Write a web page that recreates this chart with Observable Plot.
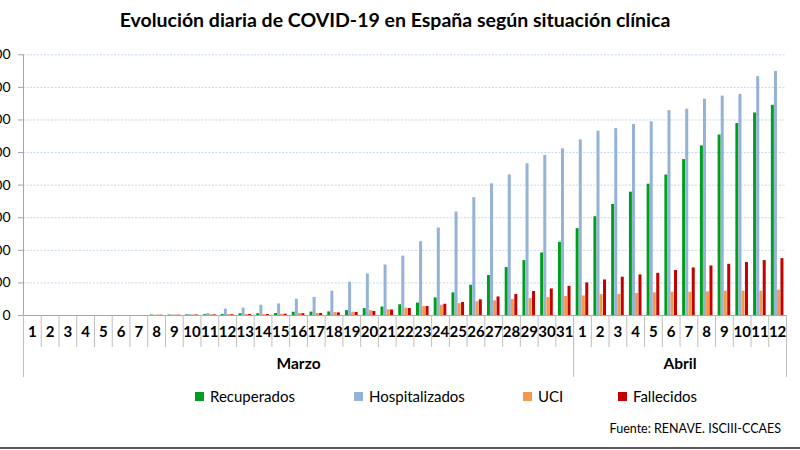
<!DOCTYPE html>
<html><head><meta charset="utf-8">
<script src="https://cdn.jsdelivr.net/npm/d3@7"></script>
<script src="https://cdn.jsdelivr.net/npm/@observablehq/plot@0.6"></script>
<style>
html,body{margin:0;padding:0;background:#fff;overflow:hidden;width:800px;height:450px;}
#wrap{position:relative;width:800px;height:450px;font-family:Lato,"Open Sans",sans-serif;color:#000;}
#title{position:absolute;left:0;top:7px;width:790px;text-align:center;font-weight:700;font-size:19.5px;line-height:26px;}
#chart{position:absolute;left:0;top:40px;}
.leg{position:absolute;top:387px;font-size:15px;line-height:18px;display:flex;align-items:center;white-space:nowrap;}
.sw{width:9px;height:9px;margin-right:6px;}
#src{position:absolute;right:19px;top:420px;font-size:12.5px;line-height:18px;}
#border{position:absolute;left:0;top:447px;width:800px;height:2px;background:#595959;}
</style></head><body>
<div id="wrap">
  <div id="title">Evolución diaria de COVID-19 en España según situación clínica</div>
  <div id="chart"></div>
  <div id="legend"></div>
  <div id="src">Fuente: RENAVE. ISCIII-CCAES</div>
  <div id="border"></div>
</div>
<script>
// ---- data ----
const etiquetas = ["1","2","3","4","5","6","7","8","9","10","11","12","13","14","15","16","17","18","19","20","21","22","23","24","25","26","27","28","29","30","31",
                   "1","2","3","4","5","6","7","8","9","10","11","12"];
const meses = ["Marzo","Abril"];
const diasPorMes = [31, 12];
const series = ["Recuperados","Hospitalizados","UCI","Fallecidos"];
const colores = ["#009e1e","#95b3d7","#f39a4c","#c40000"];
const recuperados = [0,0,0,0,0,0,0,150,150,200,250,300,550,550,600,1000,1050,1100,1500,2100,2600,3300,3800,5400,6950,9300,12250,14700,16850,19200,22450,
                     26650,30300,34100,37850,40300,43100,47850,52050,55400,58900,62150,64500];
const hospitalizados = [0,0,0,0,0,0,0,100,150,250,600,1950,2250,3150,3550,5000,5550,7450,10200,12750,15500,18250,22650,26850,31750,36150,40400,43150,46550,49100,51150,
                        53900,56550,57350,58600,59400,62850,63300,66350,67350,67850,73300,74900];
const uci = [0,0,0,0,0,0,0,150,150,200,250,300,300,300,400,600,650,900,1000,1500,1750,2250,2750,3150,3650,4200,4500,4900,5200,5500,5850,
             6000,6400,6450,6750,6950,7150,7150,7250,7450,7450,7450,7750];
const fallecidos = [0,0,0,0,0,0,0,100,100,150,200,250,300,300,400,550,600,800,950,1250,1700,2150,2750,3450,4000,4800,5700,6450,7350,8150,8950,
                    10000,10900,11750,12450,12950,13800,14600,15200,15700,16250,16850,17450];
const yTicks = [0,10000,20000,30000,40000,50000,60000,70000,80000];

// ---- build ----
const dias = etiquetas.map((t, i) => (i < diasPorMes[0] ? "M" : "A") + t);
const rows = dias.map((d, i) => ({dia: d, etq: etiquetas[i], v: [recuperados[i], hospitalizados[i], uci[i], fallecidos[i]]}));

const W = 800, H = 345, mL = 23, mR = 14, mT = 14.3, mB = 70;
const bw = (W - mL - mR) / dias.length;
const barW = 3;
const offsets = [2.6, 5.7, 8.8, 12.2];
const grid = "#c3d6ee", axisC = "#a6a6a6", sepC = "#bfbfbf";

const barMarks = series.map((s, k) => Plot.barY(rows, {
  x: "dia", y: d => d.v[k], fill: colores[k],
  insetLeft: offsets[k], insetRight: bw - offsets[k] - barW
}));

// month spans
let start = 0;
const monthMarks = [];
const monthBounds = [];
meses.forEach((m, j) => {
  const s = start, e = start + diasPorMes[j] - 1;
  const mid = (s + e) / 2, fi = Math.floor(mid);
  monthMarks.push(Plot.text([m], {x: () => dias[fi], dx: (mid - fi) * bw, text: d => d,
    frameAnchor: "bottom", dy: 53, fontWeight: "bold", fontSize: 15.5, fill: "#000"}));
  monthBounds.push(dias[s]);
  start = e + 1;
});

const fmt = v => v === 0 ? "0" : d3.format(",")(v).replace(/,/g, ".");

const chart = Plot.plot({
  width: W, height: H, marginLeft: mL, marginRight: mR, marginTop: mT, marginBottom: mB,
  style: {overflow: "visible", fontFamily: "Lato, 'Open Sans', sans-serif", background: "transparent"},
  x: {type: "band", domain: dias, padding: 0, axis: null},
  y: {domain: [0, 80000], axis: null},
  marks: [
    Plot.ruleY(yTicks.filter(v => v > 0), {stroke: grid, strokeDasharray: "2,1.5"}),
    ...barMarks,
    Plot.ruleY([0], {stroke: axisC}),
    Plot.ruleX([dias[0]], {dx: -bw / 2, stroke: axisC}),
    Plot.axisY({ticks: yTicks, tickSize: 5, tickPadding: 8, fontSize: 14, tickFormat: fmt, label: null, stroke: axisC, fill: "#000"}),
    // day separators below axis
    Plot.ruleX(dias, {x: d => d, y1: 0, y2: 0, dx: -bw / 2, insetBottom: -32, stroke: sepC}),
    Plot.ruleX([dias[dias.length - 1]], {x: d => d, y1: 0, y2: 0, dx: bw / 2, insetBottom: -62, stroke: sepC}),
    Plot.ruleX(monthBounds, {x: d => d, y1: 0, y2: 0, dx: -bw / 2, insetBottom: -62, stroke: sepC}),
    Plot.text(rows, {x: "dia", text: "etq", frameAnchor: "bottom", dy: 21.7, fontWeight: "bold", fontSize: 15, fill: "#000"}),
    ...monthMarks
  ]
});
document.getElementById("chart").appendChild(chart);

// legend
const legLeft = [195, 354, 523, 618];
const legend = document.getElementById("legend");
series.forEach((s, k) => {
  const el = document.createElement("div");
  el.className = "leg";
  el.style.left = legLeft[k] + "px";
  el.innerHTML = `<span class="sw" style="background:${colores[k]}"></span><span>${s}</span>`;
  legend.appendChild(el);
});
</script>
</body></html>
